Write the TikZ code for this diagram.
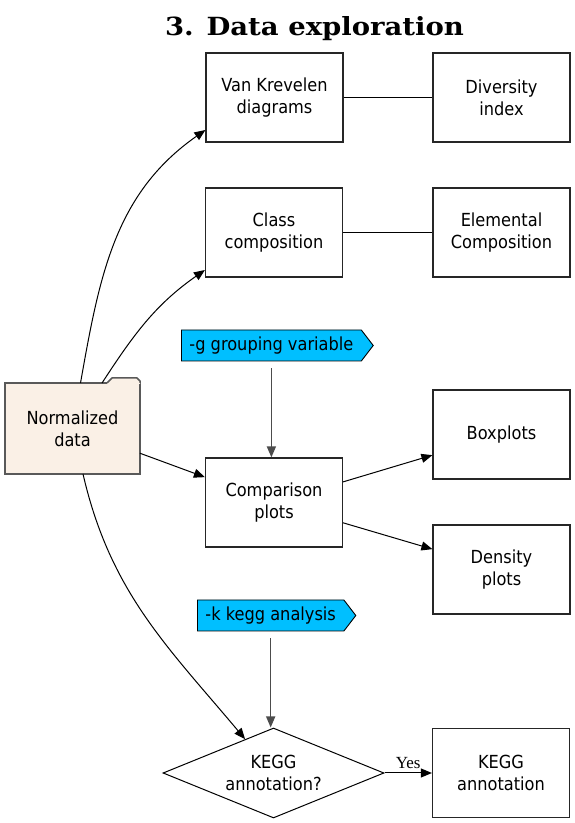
\documentclass[tikz,border=0pt]{standalone}
\usepackage{fontspec}
\setmainfont{DejaVu Sans}[FakeStretch=0.9]
\newfontfamily\titlefont{DejaVu Serif}[FakeStretch=1.1]
\newfontfamily\yesfont{Liberation Serif}
\usetikzlibrary{arrows.meta, shapes.geometric, shapes.symbols}
\definecolor{linen}{HTML}{FAF0E6}
\definecolor{skyblue}{HTML}{00BFFF}

\begin{document}
\begin{tikzpicture}[x=1pt, y=1pt,
    every node/.style={font=\fontsize{18}{22}\selectfont, align=center},
    stepbox/.style={draw=black!85, line width=1.2pt, minimum width=137pt, minimum height=89pt, inner sep=0pt},
    folder/.style={draw=black!65, line width=1.5pt, fill=linen, minimum width=135pt, minimum height=91pt, inner sep=0pt, outer sep=0pt},
    flag/.style={draw=black, line width=0.9pt, fill=skyblue, signal, signal to=east, signal pointer angle=105, minimum height=31pt, inner xsep=8pt, inner ysep=0pt, anchor=west},
    decision/.style={draw=black, line width=1pt, diamond, aspect=2.45, minimum width=221pt, minimum height=90pt, inner sep=0pt},
    link/.style={black, line width=1pt},
    arrow/.style={black, line width=1pt, -{Triangle[length=11pt, width=9pt]}},
    optarrow/.style={black!70, line width=1.4pt, -{Triangle[length=11pt, width=9pt]}, shorten <=7pt}
]

    \useasboundingbox (0,0) rectangle (574,823);

    % title
    \node[font=\titlefont\bfseries\fontsize{25}{28}\selectfont, anchor=base] (title) at (314.5,787) {3. Data exploration};

    % upper rows
    \node[stepbox] (vank) at (274.5,725.5) {Van Krevelen\\diagrams};
    \node[stepbox] (divers) at (501.5,725.5) {Diversity\\index};
    \node[stepbox] (classc) at (274,590.5) {Class\\composition};
    \node[stepbox] (elemc) at (501.5,590.5) {Elemental\\Composition};

    % input data
    \node[folder] (normd) at (72.5,394.5) {Normalized\\data};
    \fill[linen] ([xshift=-33pt, yshift=-1pt]normd.north east) -- ++(0,1) -- ++(5,5) -- ++(25,0) -- ++(3,-3) -- ++(0,-3) -- cycle;
    \draw[black!65, line width=1.5pt, line join=round] ([xshift=-33pt]normd.north east) -- ++(5,5) -- ++(25,0) -- ++(3,-3) -- (normd.north east);

    % comparison plots
    \node[flag] (gflag) at (181,477.5) {-g grouping variable};
    \node[stepbox] (compp) at (274,320.5) {Comparison\\plots};
    \node[stepbox] (boxp) at (501.5,388.5) {Boxplots};
    \node[stepbox] (densp) at (501.5,253.5) {Density\\plots};

    % kegg
    \node[flag] (kflag) at (197,207.5) {-k kegg analysis};
    \node[decision] (keggq) at (273.5,50) {KEGG\\annotation?};
    \node[stepbox] (kegga) at (501,50) {KEGG\\annotation};

    % connectors
    \draw[link] (vank) -- (divers);
    \draw[link] (classc) -- (elemc);

    \draw[arrow] (normd) to[out=80, in=215] ([yshift=-32.5pt]vank.west);
    \draw[arrow] (normd) to[out=57, in=215] ([yshift=-37.5pt]classc.west);
    \draw[arrow] (normd) -- (compp);
    \draw[arrow] (normd) to[out=-77, in=130] (keggq);

    \draw[arrow] (compp) -- (boxp);
    \draw[arrow] (compp) -- (densp);

    \draw[optarrow] (gflag.south) -- (gflag.south |- compp.north);
    \draw[optarrow] (kflag.south) -- (kflag.south |- keggq.north);

    \draw[arrow] (keggq) -- node[above, font=\yesfont\fontsize{17}{20}\selectfont, inner sep=4pt] (yes) {Yes} (kegga);

\end{tikzpicture}
\end{document}
